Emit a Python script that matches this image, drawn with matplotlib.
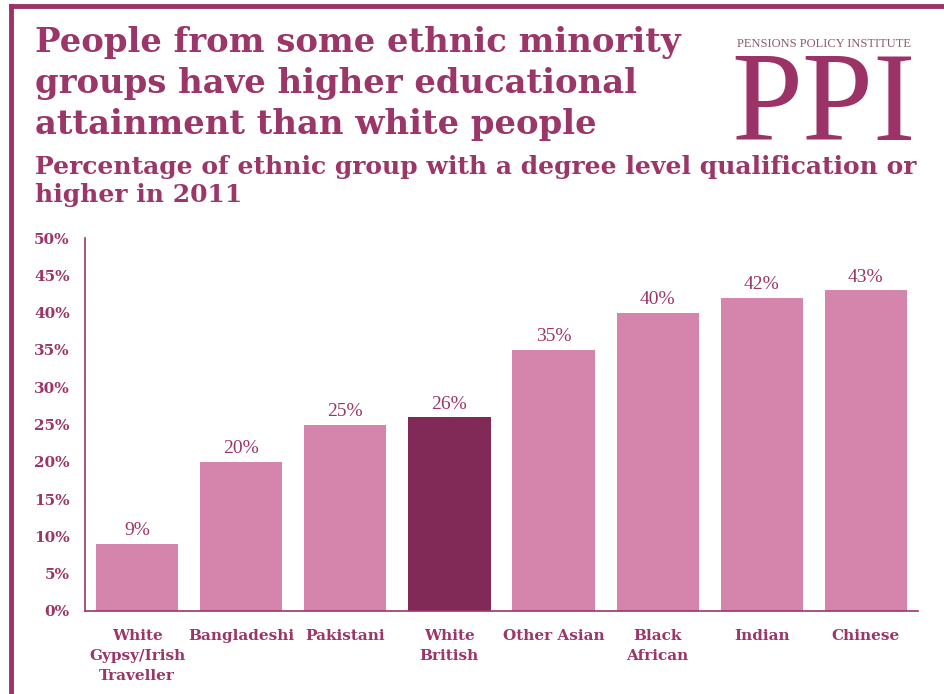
import numpy as np
from matplotlib import pyplot as plt
from matplotlib.lines import Line2D

# data
groups = ['White\nGypsy/Irish\nTraveller', 'Bangladeshi', 'Pakistani', 'White\nBritish',
          'Other Asian', 'Black\nAfrican', 'Indian', 'Chinese']
pct = [9, 20, 25, 26, 35, 40, 42, 43]
highlight = 'White\nBritish'

pink = '#D585AB'
dark = '#822A57'
txt = '#9B3668'
bold_font = ['DejaVu Serif']

plt.rcParams['font.family'] = ['Liberation Serif', 'DejaVu Serif']

fig = plt.figure(figsize=(9.45, 6.94), dpi=100)
ax = fig.add_axes([0.0899, 0.1196, 0.8815, 0.5374])

x = np.arange(len(groups))
cols = [dark if g == highlight else pink for g in groups]
ax.bar(x, pct, width=0.79, color=cols)
for xi, v in zip(x, pct):
    ax.text(xi, v + 0.6, '%d%%' % v, ha='center', va='bottom', fontsize=14, color=txt)

ax.set_xlim(-0.5, 7.5)
ax.set_ylim(0, 50)
ax.set_yticks(np.arange(0, 51, 5))
ax.set_yticklabels(['%d%%' % t for t in range(0, 51, 5)], fontsize=11, fontweight='bold',
                   color=txt, family=bold_font)
ax.set_xticks(x)
ax.set_xticklabels(groups, fontsize=11, fontweight='bold', color=txt, linespacing=1.55,
                   family=bold_font)
ax.tick_params(length=0, pad=11)
ax.tick_params(axis='x', pad=13)
for s in ['top', 'right']:
    ax.spines[s].set_visible(False)
for s in ['left', 'bottom']:
    ax.spines[s].set_color(txt)
    ax.spines[s].set_linewidth(1.2)

# frame
fig.add_artist(Line2D([0.012, 1.0], [0.992, 0.992], color='#9B3366', lw=3.5, transform=fig.transFigure))
fig.add_artist(Line2D([0.012, 0.012], [0.0, 0.992], color='#9B3366', lw=3.5, transform=fig.transFigure))

# titles
fig.text(0.037, 0.962, 'People from some ethnic minority\ngroups have higher educational\nattainment than white people',
         fontsize=24.4, fontweight='bold', color=txt, va='top', ha='left', linespacing=1.3,
         family=bold_font)
fig.text(0.037, 0.776, 'Percentage of ethnic group with a degree level qualification or\nhigher in 2011',
         fontsize=18, fontweight='bold', color=txt, va='top', ha='left', linespacing=1.2,
         family=bold_font)

# logo
fig.text(0.872, 0.928, 'PENSIONS POLICY INSTITUTE', fontsize=9, color='#8a5a70',
         ha='center', va='bottom')
fig.text(0.872, 0.798, 'PPI', fontsize=92, color='#9B3366', ha='center', va='baseline')

fig.savefig('out.png', dpi=100)
